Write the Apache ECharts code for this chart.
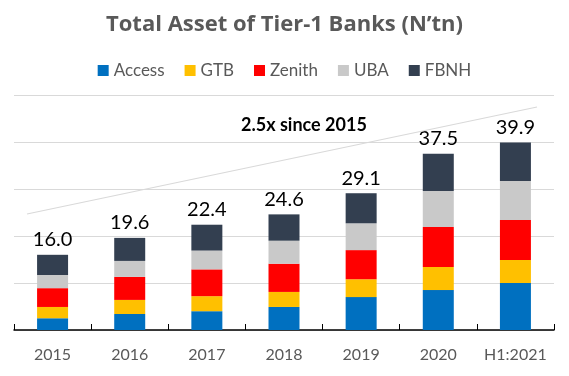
<!DOCTYPE html>
<html>
<head>
<meta charset="utf-8">
<script src="https://cdn.jsdelivr.net/npm/echarts@6/dist/echarts.min.js"></script>
<style>
  html, body { margin: 0; padding: 0; background: #fff; }
  #chart { width: 569px; height: 376px; }
</style>
</head>
<body>
<div id="chart"></div>
<script>
// values in N'tn
const years = ['2015', '2016', '2017', '2018', '2019', '2020', 'H1:2021']
const access = [2.5, 3.4, 4.0, 4.9, 7.0, 8.5, 10.0]
const gtb = [2.4, 3.0, 3.2, 3.2, 3.8, 4.9, 4.9]
const zenith = [4.0, 4.9, 5.7, 6.0, 6.2, 8.5, 8.5]
const uba = [2.8, 3.4, 4.0, 4.9, 5.7, 7.7, 8.3]
const fbnh = [4.3, 4.9, 5.5, 5.6, 6.4, 7.9, 8.2]
const totals = ['16.0', '19.6', '22.4', '24.6', '29.1', '37.5', '39.9']

const font = 'Lato, "Open Sans", sans-serif'

function bar(name, data, color) {
    return {
        name: name,
        type: 'bar',
        stack: 'total',
        barWidth: 31,
        itemStyle: {color: color},
        data: data
    }
}

let chart = echarts.init(document.getElementById('chart'))
let series = [
    bar('Access', access, '#0070C0'),
    bar('GTB', gtb, '#FFC000'),
    bar('Zenith', zenith, '#FF0000'),
    bar('UBA', uba, '#C9C9C9'),
    bar('FBNH', fbnh, '#333F50')
]
// total on top of each stack
series[4].label = {
    show: true,
    position: 'top',
    distance: 5,
    color: '#000',
    fontSize: 20,
    fontFamily: font,
    formatter: p => totals[p.dataIndex]
}
// growth arrow
series[4].markLine = {
    silent: true,
    symbol: ['none', 'arrow'],
    symbolSize: [0, 9],
    label: {show: false},
    lineStyle: {color: '#D9D9D9', width: 1.2, type: 'solid'},
    data: [[{x: 27, y: 214}, {x: 537, y: 107}]]
}

chart.setOption({
    animation: false,
    textStyle: {fontFamily: font},
    title: {
        text: 'Total Asset of Tier-1 Banks (N’tn)',
        left: 'center',
        top: 9,
        textStyle: {
            color: '#595959',
            fontSize: 22,
            fontWeight: 'bold',
            fontFamily: '"Open Sans", sans-serif'
        }
    },
    legend: {
        top: 57,
        left: 'center',
        icon: 'rect',
        itemWidth: 11,
        itemHeight: 11,
        itemGap: 20,
        textStyle: {color: '#595959', fontSize: 17, fontFamily: font},
        data: ['Access', 'GTB', 'Zenith', 'UBA', 'FBNH']
    },
    graphic: [{
        type: 'text',
        left: 241,
        top: 116,
        style: {
            text: '2.5x since 2015',
            fill: '#000',
            font: 'bold 18px Lato, sans-serif'
        }
    }],
    grid: {left: 14, right: 15, top: 95, bottom: 46},
    xAxis: {
        type: 'category',
        data: years,
        axisLine: {lineStyle: {color: '#000', width: 1.5}},
        axisTick: {show: true, inside: true, length: 6, lineStyle: {color: '#000'}},
        axisLabel: {color: '#595959', fontSize: 16, margin: 17, interval: 0, fontFamily: font}
    },
    yAxis: {
        type: 'value',
        min: 0,
        max: 50,
        interval: 10,
        axisLabel: {show: false},
        axisLine: {show: false},
        axisTick: {show: false},
        splitLine: {lineStyle: {color: '#D9D9D9', width: 1}}
    },
    series: series
})
</script>
</body>
</html>
